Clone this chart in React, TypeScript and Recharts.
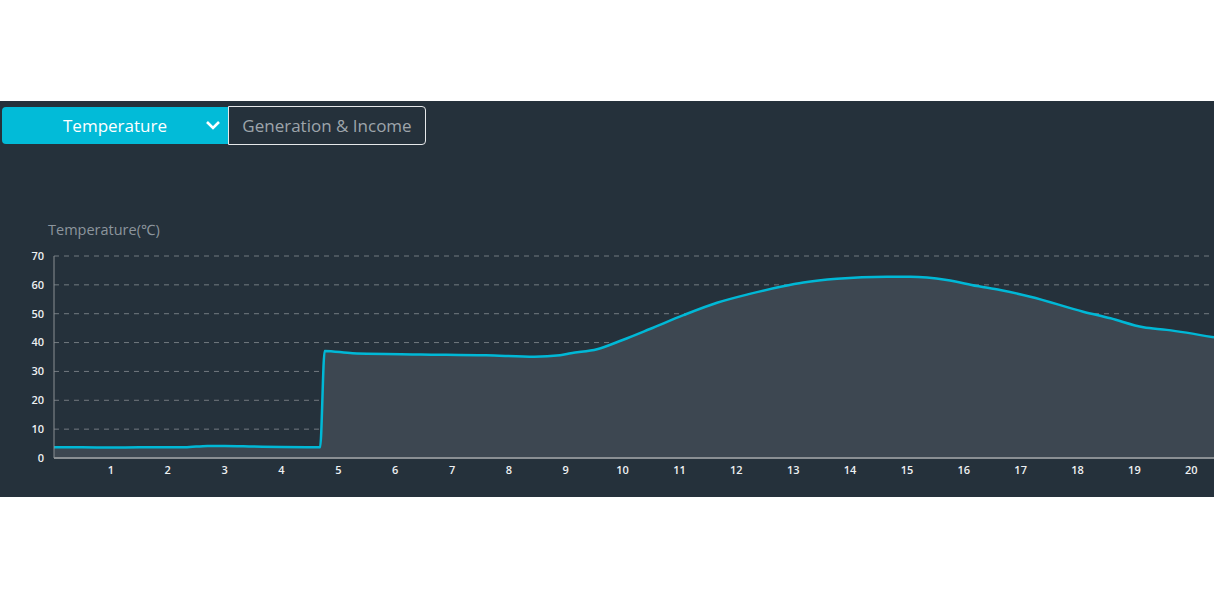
import React from 'react';
import { AreaChart, Area, XAxis, YAxis, CartesianGrid } from 'recharts';

// time (hour of day) and temperature readings
const hours = [
  0, 0.5, 1, 1.5, 2, 2.3, 2.7, 3, 3.5, 4, 4.6, 4.68, 4.76, 5.25, 6.45, 7.6, 8.45, 8.9,
  9.09, 9.55, 10.0, 10.48, 11.07, 11.66, 12.2, 12.8, 13.18, 13.77, 14.65, 15.06, 15.7,
  16.23, 16.64, 17.17, 18.1, 18.58, 19.16, 19.57, 20.4,
];
const temperature = [
  3.7, 3.7, 3.6, 3.7, 3.7, 3.7, 4.2, 4.2, 4.0, 3.8, 3.7, 3.7, 37.1, 36.3, 35.9, 35.6, 35.1, 35.6,
  36.3, 37.7, 40.9, 44.7, 49.5, 53.8, 56.7, 59.4, 60.8, 62.1, 62.8, 62.8, 61.7,
  59.6, 58.2, 55.9, 50.7, 48.4, 45.3, 44.4, 41.8,
];
const xTicks = [1, 2, 3, 4, 5, 6, 7, 8, 9, 10, 11, 12, 13, 14, 15, 16, 17, 18, 19, 20];
const yTicks = [0, 10, 20, 30, 40, 50, 60, 70];

const data = hours.map((h, i) => ({ hour: h, temp: temperature[i] }));

const font = '"Open Sans", "Noto Sans", sans-serif';

const App: React.FC = () => {
  return (
    <div
      style={{
        position: 'absolute',
        left: 0,
        top: 0,
        width: 1214,
        height: 599,
        background: '#fff',
        overflow: 'hidden',
        fontFamily: font,
      }}
    >
      <div
        style={{
          position: 'absolute',
          left: 0,
          top: 101,
          width: 1214,
          height: 396,
          background: '#25313b',
        }}
      >
        {/* tab buttons */}
        <div
          style={{
            position: 'absolute',
            left: 2,
            top: 6,
            width: 226,
            height: 37,
            background: '#02bbd8',
            borderRadius: '4px 0 0 4px',
            color: '#fff',
            fontSize: 17,
            lineHeight: '37px',
          }}
        >
          <span style={{ position: 'absolute', left: 61 }}>Temperature</span>
          <svg
            style={{ position: 'absolute', left: 203, top: 13 }}
            width={16}
            height={10}
            viewBox="0 0 16 10"
          >
            <polyline points="2,2 8,8 14,2" fill="none" stroke="#fff" strokeWidth={2.6} />
          </svg>
        </div>
        <div
          style={{
            position: 'absolute',
            left: 228,
            top: 5,
            width: 196,
            height: 37,
            border: '1px solid #e6e8ea',
            borderRadius: '0 4px 4px 0',
            color: '#9ea5ab',
            fontSize: 17,
            lineHeight: '38px',
            textAlign: 'center',
          }}
        >
          Generation &amp; Income
        </div>

        <div
          style={{
            position: 'absolute',
            left: 48,
            top: 118,
            color: '#8c959d',
            fontSize: 14.5,
          }}
        >
          Temperature(℃)
        </div>

        <div style={{ position: 'absolute', left: 0, top: 139 }}>
          <AreaChart
            width={1214}
            height={258}
            data={data}
            margin={{ top: 16, right: 0, bottom: 0, left: 10 }}
          >
            <CartesianGrid
              vertical={false}
              stroke="#737a80"
              strokeDasharray="5 5"
            />
            <XAxis
              dataKey="hour"
              type="number"
              domain={[0, 20.4]}
              ticks={xTicks}
              allowDataOverflow
              height={40}
              tickLine={false}
              axisLine={{ stroke: '#8a8f93', strokeWidth: 2 }}
              tick={{ fill: '#eef0f2', fontSize: 11, fontWeight: 600, fontFamily: font }}
            />
            <YAxis
              type="number"
              domain={[0, 70]}
              ticks={yTicks}
              width={44}
              tickLine={false}
              tickSize={0}
              tickMargin={10}
              axisLine={{ stroke: '#8a8f93', strokeWidth: 1 }}
              tick={{ fill: '#eef0f2', fontSize: 11, fontWeight: 600, fontFamily: font }}
            />
            <Area
              type="monotone"
              dataKey="temp"
              stroke="#00b8d6"
              strokeWidth={2.5}
              fill="#3d4751"
              fillOpacity={1}
              dot={false}
              activeDot={false}
              isAnimationActive={false}
            />
          </AreaChart>
        </div>
      </div>
    </div>
  );
};

export default App;
